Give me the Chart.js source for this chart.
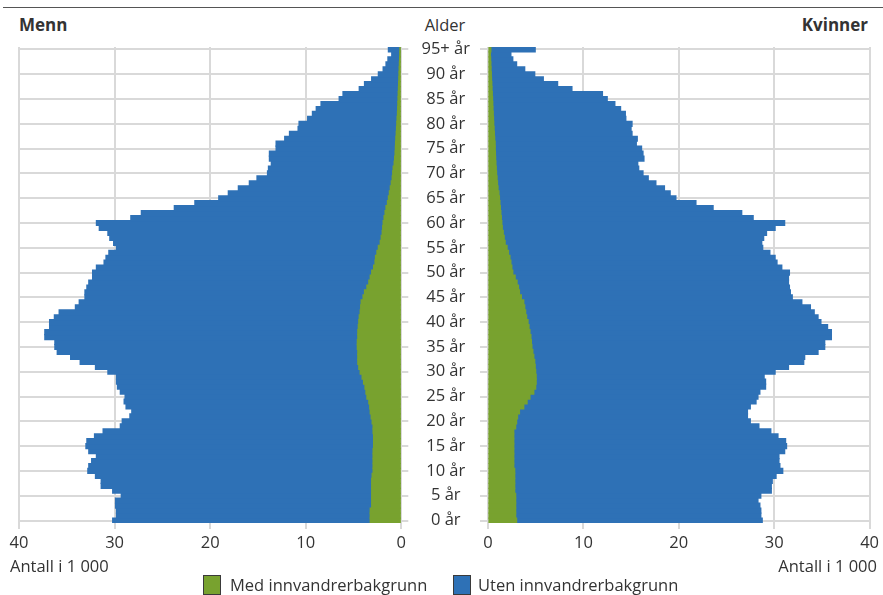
<!DOCTYPE html>
<html>
<head>
<meta charset="utf-8">
<script src="https://cdn.jsdelivr.net/npm/chart.js@4.4.1/dist/chart.umd.min.js"></script>
<style>
  body { margin: 0; width: 883px; height: 595px; overflow: hidden; background: #fff;
         font-family: 'Open Sans', sans-serif; color: #333; }
  .abs { position: absolute; font-size: 16.5px; line-height: 20px; white-space: nowrap; }
  canvas { position: absolute; top: 0; }
  .box { position: absolute; width: 18px; height: 20px; border: 1px solid #3a3a3a; box-sizing: border-box; }
</style>
</head>
<body>
<div style="position:absolute;left:3px;top:7px;width:880px;border-top:1.5px solid #555;"></div>
<div class="abs" style="left:19px;top:15px;font-weight:bold;font-size:17px;">Menn</div>
<div class="abs" style="left:405px;top:15px;width:80px;text-align:center;">Alder</div>
<div class="abs" style="right:15px;top:15px;font-weight:bold;font-size:17px;">Kvinner</div>
<canvas id="menn" width="410" height="560" style="left:0"></canvas>
<canvas id="kvinner" width="480" height="560" style="left:403px"></canvas>
<div class="abs" style="left:10px;top:556px;">Antall i 1 000</div>
<div class="abs" style="right:6px;top:556px;">Antall i 1 000</div>
<div class="box" style="left:203px;top:575px;background:#78a22f;"></div>
<div class="abs" style="left:230px;top:575px;">Med innvandrerbakgrunn</div>
<div class="box" style="left:453px;top:575px;background:#2e71b6;"></div>
<div class="abs" style="left:478px;top:575px;">Uten innvandrerbakgrunn</div>
<script>
"use strict";

// alder 0 .. 95+, antall i 1 000
const ageLabels = [];
for (let a = 0; a <= 95; a++) ageLabels.push(a === 95 ? '95+ år' : a + ' år');

const menWith = [
  3.25, 3.25, 3.25, 3.1, 3.1, 3.1, 3.1, 3.1, 3.1, 3.05,
  2.95, 2.95, 2.95, 2.95, 2.95, 2.9, 2.9, 2.9, 2.95, 2.95,
  3.05, 3.15, 3.25, 3.3, 3.4, 3.6, 3.7, 3.8, 3.95, 4.1,
  4.3, 4.45, 4.55, 4.55, 4.55, 4.6, 4.6, 4.55, 4.55, 4.5,
  4.45, 4.4, 4.3, 4.25, 4.2, 4.0, 3.85, 3.6, 3.4, 3.25,
  3.1, 2.9, 2.75, 2.7, 2.55, 2.4, 2.2, 2.1, 2.0, 1.95,
  1.9, 1.8, 1.7, 1.6, 1.45, 1.35, 1.25, 1.15, 1.05, 0.95,
  0.9, 0.85, 0.75, 0.7, 0.65, 0.62, 0.6, 0.57, 0.53, 0.5,
  0.47, 0.44, 0.4, 0.38, 0.36, 0.34, 0.32, 0.3, 0.28, 0.26,
  0.24, 0.22, 0.2, 0.18, 0.16, 0.15
];
const menTotal = [
  30.2, 29.8, 29.8, 29.9, 29.9, 29.3, 30.2, 31.4, 31.4, 32.0,
  32.8, 32.7, 32.4, 31.9, 32.7, 33.0, 32.9, 32.1, 31.2, 29.4,
  29.2, 28.4, 28.2, 28.8, 29.0, 28.9, 29.4, 29.7, 29.8, 29.8,
  30.7, 32.0, 33.6, 34.6, 36.0, 36.25, 36.25, 37.3, 37.3, 36.8,
  36.8, 36.3, 35.8, 34.1, 33.7, 33.1, 33.1, 32.9, 32.7, 32.3,
  32.3, 31.9, 31.1, 30.9, 30.6, 29.8, 30.1, 30.5, 30.7, 31.6,
  31.9, 28.3, 27.2, 23.75, 21.6, 19.1, 18.1, 17.05, 15.9, 15.1,
  14.0, 13.9, 13.6, 13.8, 13.8, 13.1, 13.1, 12.2, 11.7, 10.8,
  10.7, 9.8, 9.3, 8.9, 8.4, 6.5, 6.1, 4.4, 3.85, 3.1,
  2.4, 1.9, 1.6, 1.4, 1.0, 1.35
];
const womenWith = [
  3.0, 2.9, 2.9, 2.9, 2.9, 2.9, 2.8, 2.8, 2.8, 2.8,
  2.8, 2.7, 2.7, 2.7, 2.7, 2.7, 2.7, 2.7, 2.7, 2.9,
  3.0, 3.1, 3.3, 3.75, 4.1, 4.4, 4.8, 5.0, 5.05, 5.05,
  5.0, 4.95, 4.9, 4.8, 4.7, 4.6, 4.55, 4.5, 4.4, 4.3,
  4.2, 4.05, 3.95, 3.85, 3.75, 3.5, 3.3, 3.2, 3.05, 2.85,
  2.6, 2.5, 2.4, 2.3, 2.15, 2.0, 1.8, 1.7, 1.6, 1.5,
  1.45, 1.4, 1.35, 1.3, 1.25, 1.2, 1.15, 1.05, 1.0, 0.95,
  0.9, 0.87, 0.83, 0.8, 0.78, 0.76, 0.75, 0.7, 0.67, 0.64,
  0.6, 0.58, 0.55, 0.52, 0.5, 0.48, 0.45, 0.42, 0.4, 0.37,
  0.35, 0.32, 0.3, 0.28, 0.25, 0.3
];
const womenTotal = [
  28.75, 28.6, 28.6, 28.5, 28.3, 28.6, 29.7, 29.7, 29.8, 30.2,
  30.9, 30.6, 30.5, 30.5, 31.1, 31.3, 31.2, 30.4, 29.65, 28.4,
  27.5, 27.2, 27.2, 27.5, 28.1, 28.3, 28.5, 29.1, 29.1, 28.95,
  30.1, 31.5, 33.1, 33.2, 34.6, 35.3, 35.3, 36.0, 36.0, 35.6,
  34.9, 34.6, 34.2, 33.8, 32.9, 31.9, 31.7, 31.6, 31.5, 31.5,
  31.6, 30.8, 30.3, 30.1, 29.55, 28.8, 28.7, 28.9, 29.2, 30.1,
  31.1, 27.8, 26.6, 23.6, 21.8, 19.7, 19.1, 18.5, 17.6, 16.8,
  16.25, 15.8, 15.7, 16.35, 16.25, 16.1, 15.55, 15.65, 15.1, 15.0,
  15.1, 14.45, 14.4, 13.9, 13.3, 12.5, 12.0, 8.8, 7.3, 5.8,
  4.9, 3.85, 3.0, 2.6, 2.4, 4.95
];

const green = '#78a22f';
const blue = '#2e71b6';
const gridColor = '#d9d9d9';

Chart.defaults.font.family = "'Open Sans', sans-serif";
Chart.defaults.font.size = 16.5;
Chart.defaults.color = '#333';

function yAxis(pos, showLabels, tl, width) {
  return {
    type: 'category',
    position: pos,
    reverse: true,
    offset: true,
    grid: {
      offset: false,
      lineWidth: 2,
      tickLength: tl,
      color: c => c.index % 5 === 0 ? gridColor : 'rgba(0,0,0,0)',
    },
    border: {display: false},
    ticks: {
      display: showLabels,
      autoSkip: false,
      crossAlign: 'center',
      padding: 10,
      callback: (v, i) => i % 5 === 0 ? ageLabels[i] : '',
    },
    afterFit: s => { s.width = width; },
  };
}

function xAxis(rev) {
  return {
    type: 'linear',
    min: 0,
    max: 40,
    reverse: rev,
    grid: {lineWidth: 2, color: gridColor, tickLength: 6},
    border: {display: false},
    ticks: {stepSize: 10, padding: 4},
    afterFit: s => { s.height = 37; },
  };
}

function pyramid(id, withArr, totalArr, left) {
  new Chart(document.getElementById(id), {
    type: 'bar',
    data: {
      labels: ageLabels,
      datasets: [
        {label: 'Med innvandrerbakgrunn', data: withArr, backgroundColor: green},
        {label: 'Uten innvandrerbakgrunn', data: totalArr.map((t, i) => [withArr[i], t]), backgroundColor: blue},
      ],
    },
    options: {
      indexAxis: 'y',
      responsive: false,
      animation: false,
      layout: {padding: left ? {top: 47, left: 19, right: 0, bottom: 0} : {top: 47, left: 0, right: 11, bottom: 0}},
      datasets: {bar: {grouped: false, categoryPercentage: 1, barPercentage: 1, borderWidth: 0, inflateAmount: 0.6}},
      plugins: {legend: {display: false}, tooltip: {enabled: false}},
      scales: {
        x: xAxis(left),
        y: left ? yAxis('right', false, 7, 7) : yAxis('left', true, 8, 85),
      },
    },
  });
}

pyramid('menn', menWith, menTotal, true);
pyramid('kvinner', womenWith, womenTotal, false);
</script>
</body>
</html>
